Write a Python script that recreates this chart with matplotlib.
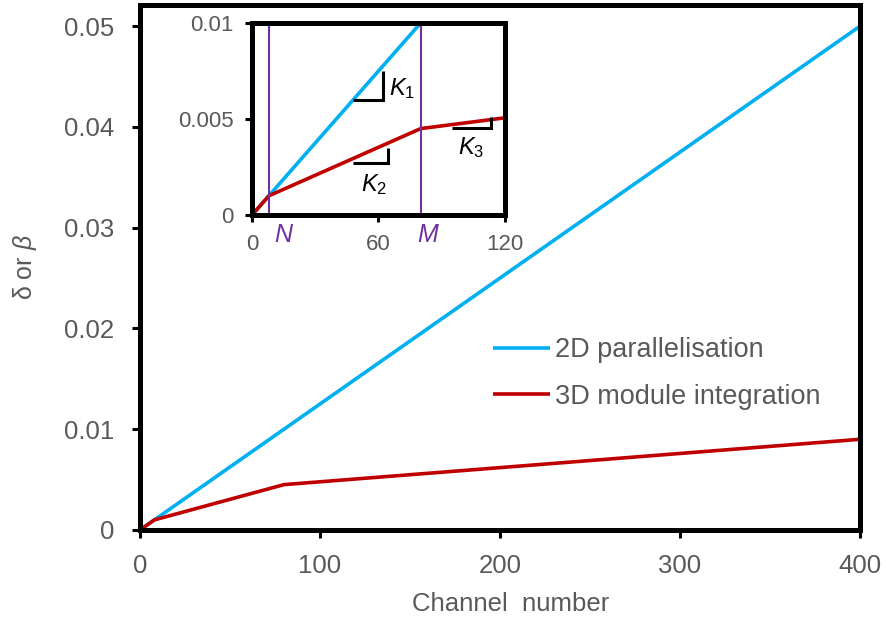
import matplotlib
matplotlib.use("Agg")
import matplotlib.pyplot as plt
from matplotlib import font_manager

plt.rcParams['font.family'] = ['Liberation Sans', 'DejaVu Sans']
plt.rcParams['mathtext.fontset'] = 'custom'
plt.rcParams['mathtext.it'] = 'Liberation Sans:italic'
plt.rcParams['mathtext.rm'] = 'Liberation Sans'

# Data
blue_x = [0, 400]
blue_y = [0, 0.05]
red_x = [0, 8, 80, 400]
red_y = [0, 0.001, 0.0045, 0.009]
labels = ["2D parallelisation", "3D module integration"]
main_xticks = [0, 100, 200, 300, 400]
main_yticks = [0, 0.01, 0.02, 0.03, 0.04, 0.05]
main_yticklabels = ["0", "0.01", "0.02", "0.03", "0.04", "0.05"]
inset_xticks = [0, 60, 120]
inset_yticks = [0, 0.005, 0.01]
inset_yticklabels = ["0", "0.005", "0.01"]
N_val = 8
M_val = 80
# slope triangles: (x_start, x_end, y_low, y_high)
tri_K1 = (48, 62, 0.006, 0.0075)
tri_K2 = (48, 64.5, 0.0027, 0.0035)
tri_K3 = (95, 113.5, 0.00453, 0.0051)

BLUE = "#00B0F0"
RED = "#C00000"
PURPLE = "#7030A0"
GRAY = "#595959"

names = {f.name for f in font_manager.fontManager.ttflist}
NARROW = 'Liberation Sans Narrow' if 'Liberation Sans Narrow' in names else 'Liberation Sans'
inset_fs = 18.5 if NARROW == 'Liberation Sans Narrow' else 16

fig = plt.figure(figsize=(8.87, 6.2), dpi=100)
ax = fig.add_axes([0.1578, 0.1452, 0.8118, 0.8468])
ax.plot(blue_x, blue_y, color=BLUE, lw=2.6, label=labels[0], solid_capstyle='butt')
ax.plot(red_x, red_y, color=RED, lw=2.6, label=labels[1], solid_capstyle='butt')
ax.set_xlim(0, 400)
ax.set_ylim(0, 0.0521)
ax.set_xticks(main_xticks)
ax.set_yticks(main_yticks)
ax.set_yticklabels(main_yticklabels)
for s in ax.spines.values():
    s.set_linewidth(3.6)
    s.set_color('black')
ax.tick_params(direction='out', length=5.5, width=2.2, color='black',
               labelsize=18.5, labelcolor=GRAY)
ax.tick_params(axis='x', pad=12)
ax.tick_params(axis='y', pad=13)
ax.set_xlabel("Channel  number", fontsize=18.5, color=GRAY)
ax.xaxis.set_label_coords(0.515, -0.119)
ax.set_ylabel("δ or $\\beta$", fontsize=18, color=GRAY)
ax.yaxis.set_label_coords(-0.14, 0.5)
leg = ax.legend(loc='center left', bbox_to_anchor=(493 / 887, 1 - 373.5 / 620),
                bbox_transform=fig.transFigure,
                frameon=False, fontsize=19.5, handlelength=2.1, handletextpad=0.2,
                labelspacing=0.75, borderaxespad=0, borderpad=0)
for t in leg.get_texts():
    t.set_color(GRAY)

# Inset
ins = fig.add_axes([0.2841, 0.6532, 0.2852, 0.3097])
ins.plot(blue_x, blue_y, color=BLUE, lw=2.6, solid_capstyle='butt')
ins.plot(red_x, red_y, color=RED, lw=2.6, solid_capstyle='butt')
ins.axvline(N_val, color=PURPLE, lw=1.5)
ins.axvline(M_val, color=PURPLE, lw=1.5)
ins.set_xlim(0, 120)
ins.set_ylim(0, 0.01)
ins.set_xticks(inset_xticks)
ins.set_yticks(inset_yticks)
ins.set_yticklabels(inset_yticklabels)
for s in ins.spines.values():
    s.set_linewidth(3.6)
    s.set_color('black')
ins.tick_params(direction='out', length=5, width=2.2, color='black',
                labelsize=inset_fs, labelcolor=GRAY)
ins.tick_params(axis='x', pad=9)
ins.tick_params(axis='y', pad=8)
for lab in ins.get_xticklabels() + ins.get_yticklabels():
    lab.set_fontfamily([NARROW, 'Liberation Sans'])

for (x0, x1, y0, y1) in (tri_K1, tri_K2, tri_K3):
    ins.plot([x0, x1, x1], [y0, y0, y1], color='black', lw=2.2, solid_joinstyle='miter',
             solid_capstyle='butt')

ins.text(71, 0.0066, r"$K_{\mathit{1}}$", fontsize=17, color='black', ha='center', va='center')
ins.text(58, 0.0016, r"$K_{\mathit{2}}$", fontsize=17, color='black', ha='center', va='center')
ins.text(104, 0.0035, r"$K_{\mathit{3}}$", fontsize=17, color='black', ha='center', va='center')

ins.text(10.5, -0.0004, r"$N$", fontsize=18, color=PURPLE, ha='left', va='top')
ins.text(83.5, -0.0004, r"$M$", fontsize=18, color=PURPLE, ha='center', va='top')

fig.savefig("out.png", dpi=100)
